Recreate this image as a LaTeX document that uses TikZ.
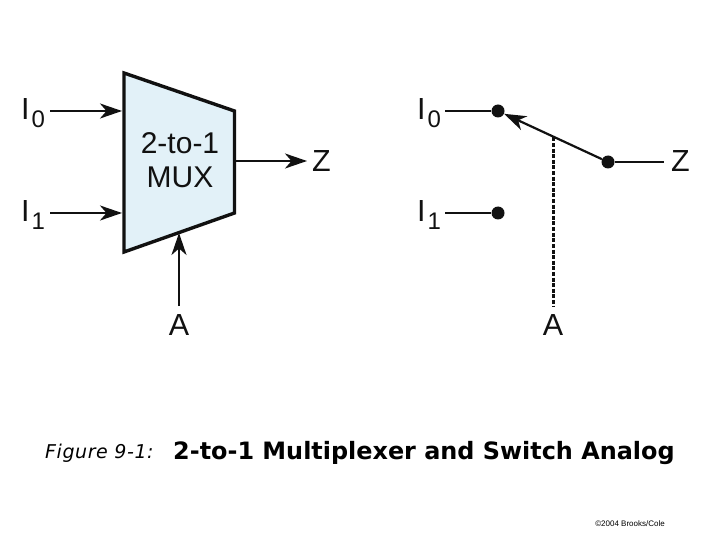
\documentclass[tikz,border=0pt]{standalone}
\usepackage{fontspec}
\setmainfont{Liberation Sans}
\newfontfamily\capfont{DejaVu Sans}
\newfontfamily\figfont[LetterSpace=3]{DejaVu Sans}
\usetikzlibrary{arrows.meta}
\definecolor{muxfill}{HTML}{E2F1F8}
\definecolor{ink}{HTML}{111111}
\tikzset{
  x=1pt,y=-1pt,
  lbl/.style={inner sep=0pt,font=\fontsize{30.5}{30.5}\selectfont,text=ink},
  muxt/.style={inner sep=0pt,align=center,font=\fontsize{30}{34}\selectfont,text=ink},
  wire/.style={line width=2.2pt,ink},
  arr/.style={wire,-{Stealth[length=22pt,width=15pt,inset=6.5pt]}},
  dot/.style={circle,fill=ink,inner sep=0pt,minimum size=13pt},
}
\newcommand{\sublbl}[2]{#1\kern2pt\raisebox{-8pt}{\fontsize{24}{24}\selectfont #2}}
\begin{document}
\begin{tikzpicture}
\useasboundingbox (0,0) rectangle (720,540);
% MUX
\draw[line width=3.4pt,ink,fill=muxfill,miter limit=10] (124,73) -- (234.5,111) -- (234.5,213) -- (124,252) -- cycle;
\node[muxt] (mux) at (180,160.5) {2-to-1\\MUX};
\coordinate (mi0) at (122,111);
\coordinate (mi1) at (122,213);
\coordinate (mo) at (236,161);
\coordinate (ma) at (179,233);
\node[lbl,anchor=base west] (li0) at (21,120) {\sublbl{I}{0}};
\node[lbl,anchor=base west] (li1) at (21,222) {\sublbl{I}{1}};
\coordinate (si0) at (50,111);
\coordinate (si1) at (50,213);
\node[lbl,anchor=base west] (lz) at (312,172) {Z};
\node[lbl,anchor=base] (la) at (179,335) {A};
\coordinate (sa) at (179,306);
\coordinate (ez) at (307,161);
\draw[arr] (si0) -- (mi0);
\draw[arr] (si1) -- (mi1);
\draw[arr] (mo) -- (ez);
\draw[arr] (sa) -- (ma);
% Switch
\node[lbl,anchor=base west] (ri0) at (417,120) {\sublbl{I}{0}};
\node[lbl,anchor=base west] (ri1) at (417,222) {\sublbl{I}{1}};
\node[lbl,anchor=base west] (rz) at (671,172) {Z};
\node[lbl,anchor=base] (ra) at (553,335) {A};
\node[dot] (d0) at (498,111) {};
\node[dot] (d1) at (498,213) {};
\node[dot] (dz) at (608,162) {};
\coordinate (r0) at (445,111);
\coordinate (r1) at (445,213);
\coordinate (rze) at (664,162);
\coordinate (rat) at (553,137.5);
\coordinate (rab) at (553,306);
\draw[wire] (r0) -- (d0);
\draw[wire] (r1) -- (d1);
\draw[wire] (dz) -- (rze);
\draw[arr] (dz) -- (d0);
\draw[line width=3pt,ink,dash pattern=on 4pt off 1.6pt] (rat) -- (rab);
% Caption
\node[inner sep=0pt,anchor=base west,font=\figfont\itshape\fontsize{19}{19}\selectfont] (fig) at (45,458) {Figure 9-1:};
\node[inner sep=0pt,anchor=base west,font=\capfont\bfseries\fontsize{23.9}{24}\selectfont] (title) at (173,459) {2-to-1 Multiplexer and Switch Analog};
\node[inner sep=0pt,anchor=base east,font=\fontsize{8}{8}\selectfont] (copy) at (665,526) {©2004 Brooks/Cole};
\end{tikzpicture}
\end{document}
